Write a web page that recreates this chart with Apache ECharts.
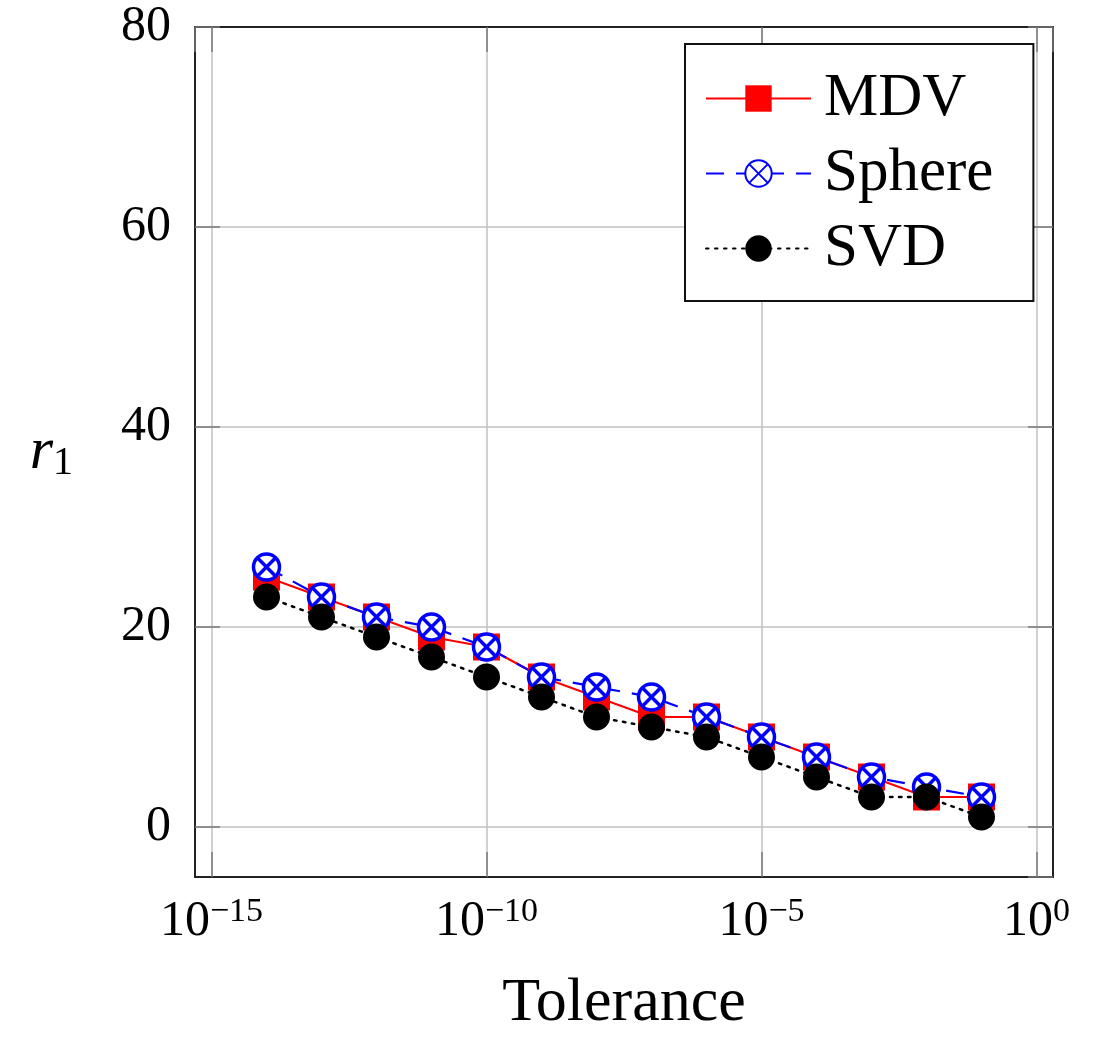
<!DOCTYPE html>
<html>
<head>
<meta charset="utf-8">
<script src="https://cdn.jsdelivr.net/npm/echarts@6/dist/echarts.min.js"></script>
<style>html,body{margin:0;padding:0;background:#fff}#chart{width:1097px;height:1040px}</style>
</head>
<body>
<div id="chart"></div>
<script>
// exponents of the tolerance (10^k)
const tolExponents = [-14, -13, -12, -11, -10, -9, -8, -7, -6, -5, -4, -3, -2, -1];
const mdv    = [25, 23, 21, 19, 18, 15, 13, 11, 11, 9, 7, 5, 3, 3];
const sphere = [26, 23, 21, 20, 18, 15, 14, 13, 11, 9, 7, 5, 4, 3];
const svd    = [23, 21, 19, 17, 15, 13, 11, 10, 9, 7, 5, 3, 3, 1];
const seriesNames = ['MDV', 'Sphere', 'SVD'];

const FONT = '"Liberation Serif", "DejaVu Serif", serif';
const pair = (ys) => tolExponents.map((x, i) => [x, ys[i]]);
const otimes = 'path://M10,0 A10,10 0 1 1 -10,0 A10,10 0 1 1 10,0 Z M-7.07,-7.07 L7.07,7.07 M-7.07,7.07 L7.07,-7.07';

const chart = echarts.init(document.getElementById('chart'), null, {renderer: 'canvas'});
const gridLine = {show: true, lineStyle: {color: '#c0c0c0', width: 1.5}};
const frameLine = {show: true, onZero: false, lineStyle: {color: '#222', width: 2}};
const tick = {show: true, inside: true, length: 25, lineStyle: {color: '#7a7a7a', width: 1.5}};
chart.setOption({
  animation: false,
  backgroundColor: '#fff',
  grid: {left: 195, right: 44, top: 27, bottom: 157},
  legend: {
    orient: 'vertical', left: 685, top: 44,
    padding: [24, 40, 22, 20], itemGap: 14, itemWidth: 105, itemHeight: 33,
    borderColor: '#111', borderWidth: 2, backgroundColor: '#fff',
    data: seriesNames,
    textStyle: {fontFamily: FONT, fontSize: 61, lineHeight: 56, color: '#000', padding: [0, 0, 0, 8]}
  },
  xAxis: [{
    type: 'value', min: -15.3, max: 0.3, splitNumber: 3,
    axisLine: frameLine,
    axisTick: tick,
    splitLine: gridLine,
    axisLabel: {
      showMinLabel: false, showMaxLabel: false, margin: 18,
      formatter: (v) => '{b|10}{s|' + (v < 0 ? '\u2212' + Math.abs(Math.round(v)) : Math.round(v)) + '}',
      rich: {
        b: {fontFamily: FONT, fontSize: 50, color: '#000', lineHeight: 54},
        s: {fontFamily: FONT, fontSize: 34, color: '#000', verticalAlign: 'top', lineHeight: 34}
      }
    },
    name: 'Tolerance', nameLocation: 'middle', nameGap: 96,
    nameTextStyle: {fontFamily: FONT, fontSize: 62, color: '#000'}
  }, {
    type: 'value', position: 'top', min: -15.3, max: 0.3, splitNumber: 3,
    axisLine: frameLine, axisLabel: {show: false}, splitLine: {show: false},
    axisTick: tick
  }],
  yAxis: [{
    type: 'value', min: -5, max: 80, splitNumber: 4,
    axisLine: frameLine,
    axisTick: tick,
    splitLine: gridLine,
    axisLabel: {showMinLabel: false, margin: 24, fontFamily: FONT, fontSize: 50, color: '#000'},
    name: '{i|r}{sub|1}', nameLocation: 'middle', nameRotate: 0, nameGap: 122,
    nameTextStyle: {
      rich: {
        i: {fontFamily: FONT, fontStyle: 'italic', fontSize: 60, color: '#000', lineHeight: 62},
        sub: {fontFamily: FONT, fontSize: 40, color: '#000', verticalAlign: 'bottom', lineHeight: 40}
      }
    }
  }, {
    type: 'value', position: 'right', min: -5, max: 80, splitNumber: 4,
    axisLine: frameLine, axisLabel: {show: false}, splitLine: {show: false},
    axisTick: tick
  }],
  series: [{
    name: seriesNames[0], type: 'line', data: pair(mdv),
    symbol: 'rect', symbolSize: 27,
    lineStyle: {color: '#ff0000', width: 2, type: 'solid'},
    itemStyle: {color: '#ff0000'}
  }, {
    name: seriesNames[1], type: 'line', data: pair(sphere),
    symbol: otimes, symbolSize: 26,
    lineStyle: {color: '#0000ff', width: 2.2, type: [18, 12]},
    itemStyle: {color: '#ffffff', borderColor: '#0000ff', borderWidth: 3.5}
  }, {
    name: seriesNames[2], type: 'line', data: pair(svd),
    symbol: 'circle', symbolSize: 27,
    lineStyle: {color: '#000', width: 2.5, type: [2.5, 6.5], cap: 'round'},
    itemStyle: {color: '#000'}
  }]
});
</script>
</body>
</html>
